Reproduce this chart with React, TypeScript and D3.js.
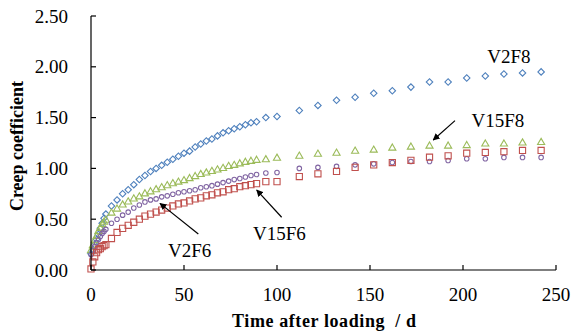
import React from "react";
import * as d3 from "d3";

// days after loading (same sampling for all four specimens)
const days = [
  0, 1, 2, 3, 4, 5, 6, 7, 8, 11, 14, 17, 20, 23, 26, 29, 32, 35, 38, 41, 44, 47,
  50, 53, 56, 59, 62, 65, 68, 71, 74, 77, 80, 83, 86, 89, 94, 100,
  112, 122, 132, 142, 152, 162, 172, 182, 192, 202, 212, 222, 232, 242,
];

const v2f8 = [
  0.16, 0.2, 0.25, 0.3, 0.35, 0.41, 0.46, 0.51, 0.55, 0.63, 0.69, 0.75, 0.79, 0.84, 0.89, 0.93, 0.97, 1.0, 1.03, 1.06, 1.09, 1.12,
  1.15, 1.17, 1.21, 1.24, 1.27, 1.29, 1.32, 1.35, 1.37, 1.39, 1.41, 1.43, 1.45, 1.46, 1.5, 1.51,
  1.57, 1.62, 1.67, 1.7, 1.74, 1.765, 1.8, 1.85, 1.85, 1.89, 1.91, 1.93, 1.94, 1.95,
];

const v15f8 = [
  0.19, 0.24, 0.29, 0.33, 0.38, 0.41, 0.45, 0.47, 0.49, 0.56, 0.6, 0.64, 0.67, 0.7, 0.72, 0.75, 0.77, 0.79, 0.81, 0.83, 0.85, 0.865,
  0.88, 0.9, 0.92, 0.94, 0.955, 0.97, 0.985, 1.0, 1.02, 1.03, 1.045, 1.06, 1.07, 1.08, 1.085, 1.1,
  1.12, 1.14, 1.15, 1.17, 1.18, 1.2, 1.21, 1.22, 1.22, 1.225, 1.24, 1.24, 1.25, 1.255,
];

const v2f6 = [
  0.15, 0.19, 0.23, 0.27, 0.3, 0.33, 0.36, 0.38, 0.4, 0.46, 0.5, 0.54, 0.57, 0.61, 0.64, 0.67, 0.69, 0.7, 0.72, 0.73, 0.745, 0.76,
  0.77, 0.78, 0.79, 0.81, 0.82, 0.83, 0.845, 0.86, 0.875, 0.89, 0.9, 0.915, 0.93, 0.94, 0.955, 0.96,
  1.0, 1.01, 1.02, 1.035, 1.045, 1.058, 1.068, 1.068, 1.078, 1.095, 1.095, 1.108, 1.108, 1.108,
];

const v15f6 = [
  0.01, 0.08, 0.13, 0.17, 0.2, 0.21, 0.23, 0.24, 0.25, 0.31, 0.37, 0.41, 0.44, 0.47, 0.5, 0.53, 0.55, 0.57, 0.59, 0.61, 0.63, 0.65,
  0.66, 0.68, 0.7, 0.71, 0.73, 0.74, 0.76, 0.77, 0.79, 0.8, 0.82, 0.83, 0.84, 0.85, 0.87, 0.87,
  0.92, 0.947, 0.97, 1.01, 1.035, 1.058, 1.08, 1.11, 1.124, 1.15, 1.157, 1.164, 1.177, 1.177,
];

const xTicks = [0, 50, 100, 150, 200, 250];
const yTicks = [0, 0.5, 1, 1.5, 2, 2.5];

const series = [
  { name: "V2F8", values: v2f8, color: "#4F81BD", shape: "diamond" },
  { name: "V15F8", values: v15f8, color: "#9BBB59", shape: "triangle" },
  { name: "V2F6", values: v2f6, color: "#8064A2", shape: "circle" },
  { name: "V15F6", values: v15f6, color: "#C0504D", shape: "square" },
];

// label anchors in data units: text start/baseline, arrow tail -> head
const labels = [
  { text: "V2F8", tx: 213, ty: 2.04 },
  { text: "V15F8", tx: 204.6, ty: 1.41, ax1: 195.7, ay1: 1.47, ax2: 184, ay2: 1.28 },
  { text: "V2F6", tx: 41.4, ty: 0.13, ax1: 57.7, ay1: 0.354, ax2: 37.1, ay2: 0.656 },
  { text: "V15F6", tx: 87.1, ty: 0.3, ax1: 102.5, ay1: 0.519, ax2: 89.1, ay2: 0.787 },
];

const WIDTH = 574;
const HEIGHT = 336;
const MARGIN = { top: 16, right: 18, bottom: 66, left: 91 };
const FONT = "'Liberation Serif', 'Times New Roman', serif";

const symbolPath = (shape: string): string => {
  if (shape === "diamond") {
    return d3.symbol().type(d3.symbolSquare).size(21)()!;
  }
  if (shape === "triangle") {
    return d3.symbol().type(d3.symbolTriangle).size(22)()!;
  }
  if (shape === "circle") {
    return d3.symbol().type(d3.symbolCircle).size(16)()!;
  }
  return d3.symbol().type(d3.symbolSquare).size(38)()!;
};

export default function App() {
  const x = d3
    .scaleLinear()
    .domain([0, 250])
    .range([MARGIN.left, WIDTH - MARGIN.right]);
  const y = d3
    .scaleLinear()
    .domain([0, 2.5])
    .range([HEIGHT - MARGIN.bottom, MARGIN.top]);

  const x0 = x(0);
  const y0 = y(0);

  return (
    <div style={{ position: "absolute", left: 0, top: 0 }}>
      <svg width={WIDTH} height={HEIGHT} style={{ display: "block", background: "#fff" }}>
        <defs>
          <marker
            id="arrow"
            viewBox="0 0 10 10"
            refX={9}
            refY={5}
            markerWidth={7}
            markerHeight={7}
            markerUnits="userSpaceOnUse"
            orient="auto"
          >
            <path d="M0,0 L10,5 L0,10 z" fill="#000" />
          </marker>
        </defs>

        {/* markers */}
        {series.map((s) => (
          <g key={s.name}>
            {s.values.map((v, i) => (
              <path
                key={i}
                d={symbolPath(s.shape)}
                transform={`translate(${x(days[i])},${y(v)})${s.shape === "diamond" ? " rotate(45)" : ""}`}
                fill="none"
                stroke={s.color}
                strokeWidth={1.1}
              />
            ))}
          </g>
        ))}

        {/* axes */}
        <line x1={x0} x2={x0} y1={y(2.5)} y2={y0} stroke="#000" strokeWidth={1.2} />
        <line x1={x0} x2={x(250)} y1={y0} y2={y0} stroke="#000" strokeWidth={1.2} />
        {yTicks.map((t) => (
          <g key={t}>
            <line x1={x0} x2={x0 + 5} y1={y(t)} y2={y(t)} stroke="#000" strokeWidth={1.2} />
            <text
              x={68}
              y={y(t) + 6.5}
              textAnchor="end"
              fontFamily={FONT}
              fontSize={19}
            >
              {t.toFixed(2)}
            </text>
          </g>
        ))}
        {xTicks.map((t) => (
          <g key={t}>
            <line x1={x(t)} x2={x(t)} y1={y0} y2={y0 - 5} stroke="#000" strokeWidth={1.2} />
            <text
              x={x(t)}
              y={y0 + 30.5}
              textAnchor="middle"
              fontFamily={FONT}
              fontSize={19}
            >
              {t}
            </text>
          </g>
        ))}

        <text
          x={232}
          y={327}
          fontFamily={FONT}
          fontSize={18}
          fontWeight="bold"
          textLength={184}
          lengthAdjust="spacing"
          style={{ whiteSpace: "pre" }}
        >
          {"Time after loading  / d"}
        </text>
        <text
          transform={`translate(23,146) rotate(-90)`}
          textAnchor="middle"
          fontFamily={FONT}
          fontSize={18}
          fontWeight="bold"
        >
          Creep coefficient
        </text>

        {/* annotations */}
        {labels.map((l) => (
          <g key={l.text}>
            <text x={x(l.tx)} y={y(l.ty)} fontFamily={FONT} fontSize={19}>
              {l.text}
            </text>
            {l.ax1 !== undefined && (
              <line
                x1={x(l.ax1)}
                y1={y(l.ay1!)}
                x2={x(l.ax2!)}
                y2={y(l.ay2!)}
                stroke="#000"
                strokeWidth={1.2}
                markerEnd="url(#arrow)"
              />
            )}
          </g>
        ))}
      </svg>
    </div>
  );
}
